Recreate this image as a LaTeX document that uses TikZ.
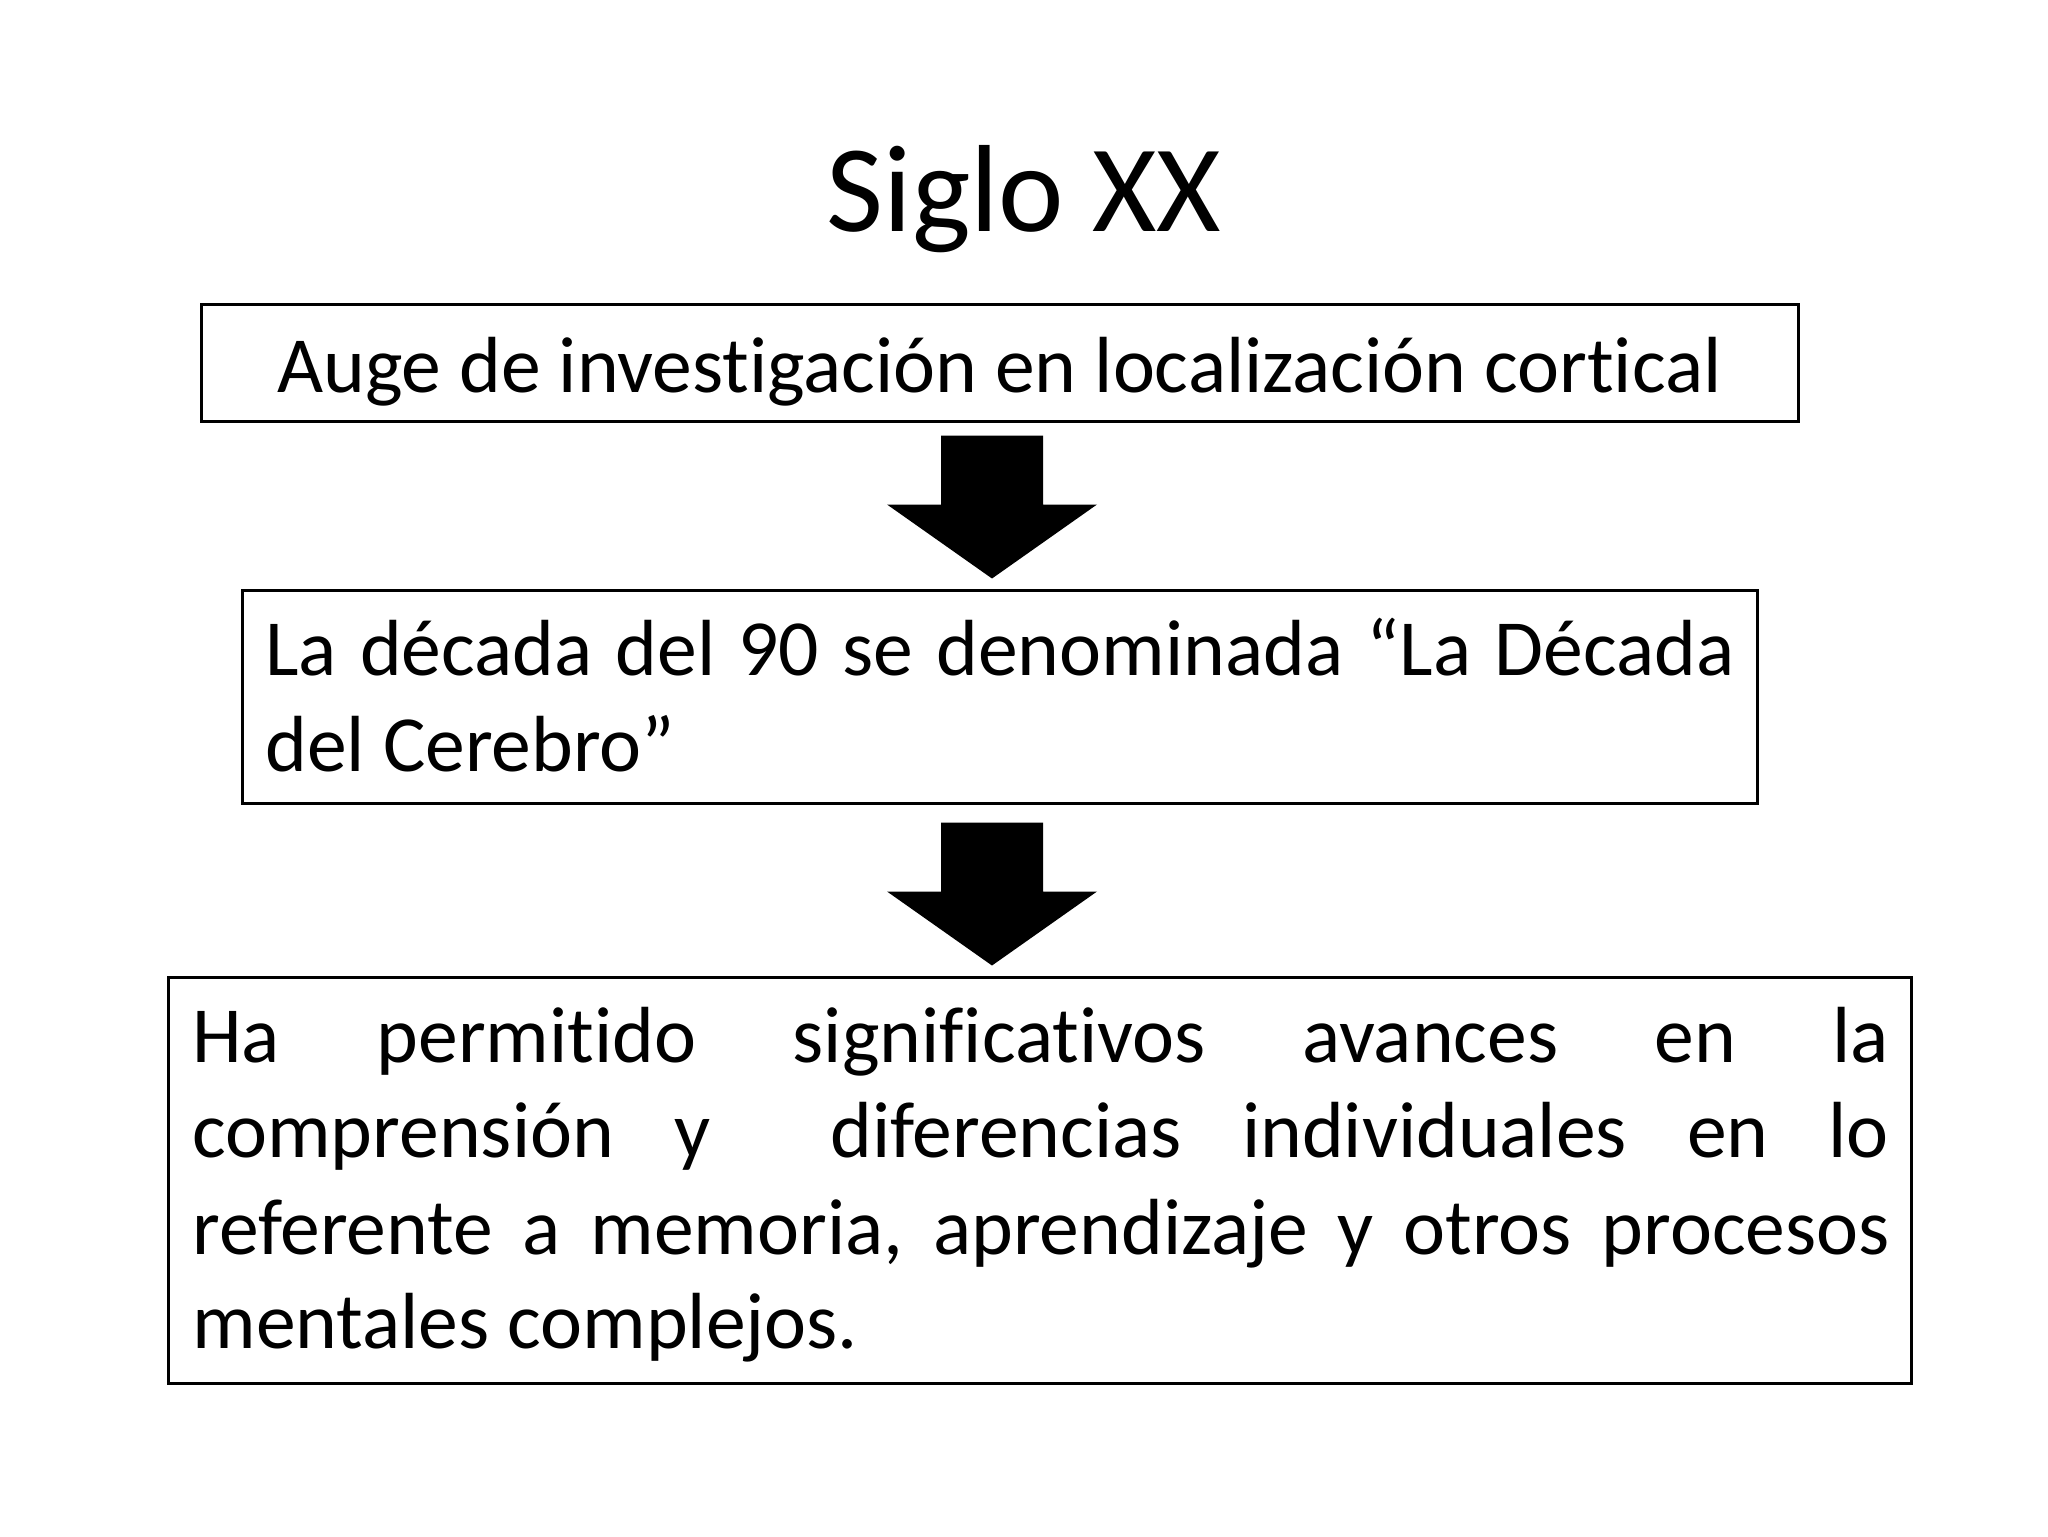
\documentclass[tikz,border=0pt]{standalone}
\usepackage{fontspec}
\setmainfont{Carlito}[Ligatures=NoCommon]
\begin{document}
\begin{tikzpicture}[x=0.5pt,y=-0.5pt,
  box/.style={draw=black, line width=1.5pt, rectangle, inner sep=0pt},
  bodytext/.style={font=\fontsize{39.8}{48}\selectfont, inner sep=0pt, anchor=base west},
  titletext/.style={font=\fontsize{62}{74}\selectfont, inner sep=0pt, anchor=base},
  blockarrow/.pic={\fill[black] (-51,0) -- (51,0) -- (51,69) -- (105,69) -- (0,143) -- (-105,69) -- (-51,69) -- cycle;}
]
\useasboundingbox (0,0) rectangle (2048,1536);
\node[titletext] (title) at (1024,231) {Siglo XX};
% boxes
\node[box, minimum width=798.5pt, minimum height=58.5pt] (b1) at (999.5,362.5) {};
\node[box, minimum width=757.5pt, minimum height=106.5pt] (b2) at (999.5,696.5) {};
\node[box, minimum width=871.5pt, minimum height=203pt] (b3) at (1039.5,1180) {};
% texts
\node[bodytext, anchor=base] (t1) at (999.5,392) {Auge de investigación en localización cortical};
\node[bodytext] (t2a) at (265,675) {\makebox[734.5pt][s]{La\hfill década\hfill del\hfill 90\hfill se\hfill denominada\hfill “La\hfill Década}};
\node[bodytext] (t2b) at (265,771) {del Cerebro”};
\node[bodytext] (t3a) at (192,1062) {\makebox[848.5pt][s]{Ha\hfill permitido\hfill significativos\hfill avances\hfill en\hfill la}};
\node[bodytext] (t3b) at (192,1157) {\makebox[848.5pt][s]{comprensión\hfill y\hfill\hfill diferencias\hfill individuales\hfill en\hfill lo}};
\node[bodytext] (t3c) at (192,1254) {\makebox[848.5pt][s]{referente\hfill a\hfill memoria,\hfill aprendizaje\hfill y\hfill otros\hfill procesos}};
\node[bodytext] (t3d) at (192,1348) {mentales complejos.};
% arrows
\path (b1.south) ++(-7.5,13) coordinate (a1);
\path (b2.south) ++(-7.5,18) coordinate (a2);
\pic at (a1) {blockarrow};
\pic at (a2) {blockarrow};
\end{tikzpicture}
\end{document}
